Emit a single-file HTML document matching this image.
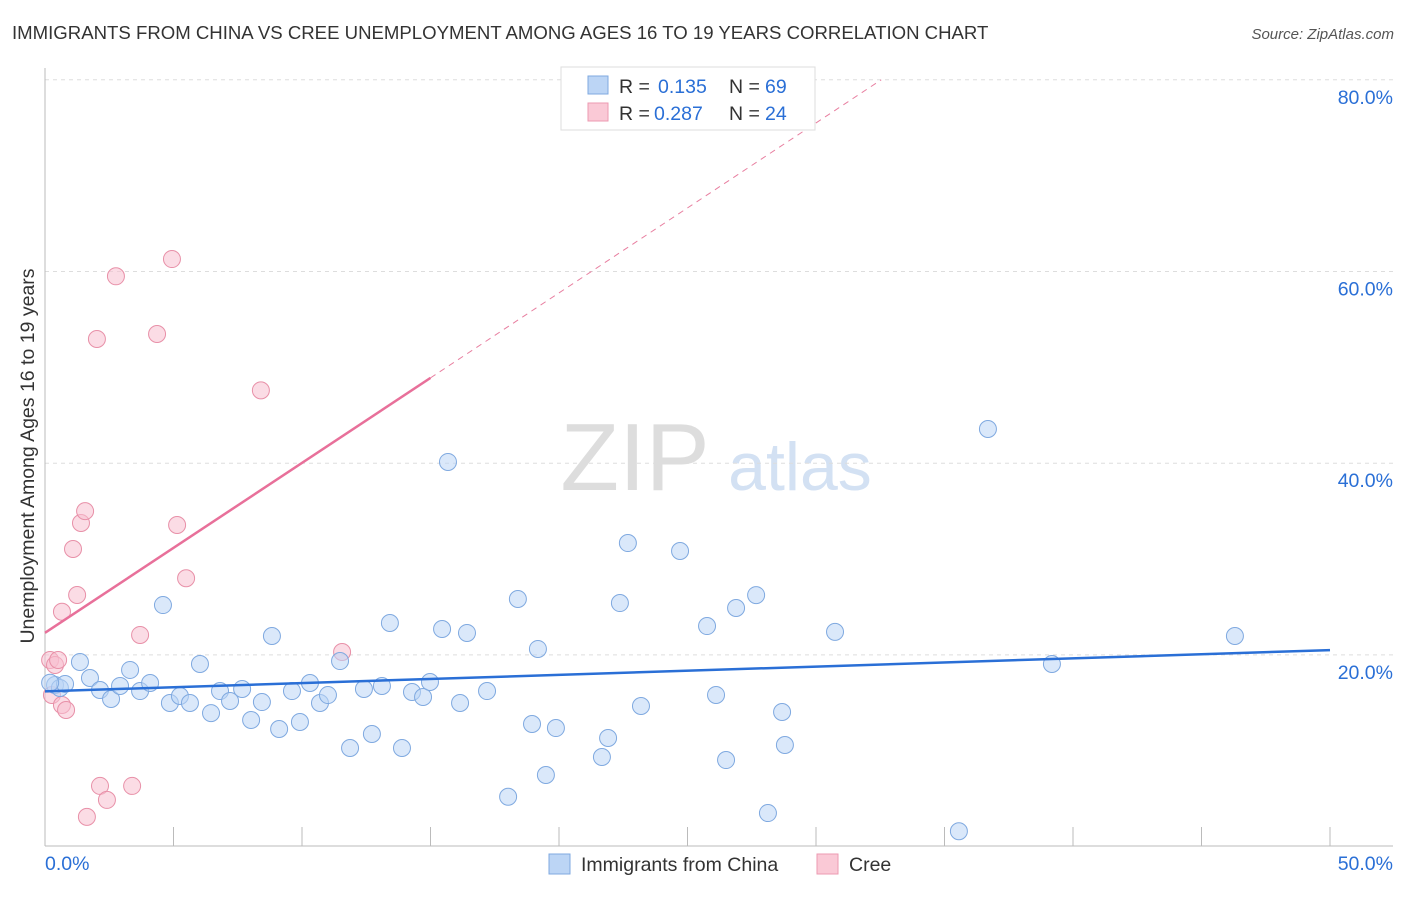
<!DOCTYPE html>
<html><head><meta charset="utf-8"><style>
body{margin:0;background:#fff;font-family:"Liberation Sans",sans-serif;}
svg text{font-family:"Liberation Sans",sans-serif;}
</style></head><body>
<svg width="1406" height="892" id="c">
<text x="12" y="39" font-size="18.6" fill="#333">IMMIGRANTS FROM CHINA VS CREE UNEMPLOYMENT AMONG AGES 16 TO 19 YEARS CORRELATION CHART</text>
<text x="1394" y="39" font-size="15" fill="#555" text-anchor="end" font-style="italic">Source: ZipAtlas.com</text>
<text transform="translate(34,456) rotate(-90)" font-size="19.5" fill="#333" text-anchor="middle">Unemployment Among Ages 16 to 19 years</text>
<g><text x="635" y="490" font-size="96" fill="#ddd" font-family="Liberation Serif" text-anchor="middle">ZIP</text><text x="800" y="490" font-size="68" fill="#d3e1f3" text-anchor="middle">atlas</text></g>
<g id="grid"></g><g id="marks"></g>
<g>
<rect x="561" y="67" width="254" height="63" fill="#fff" stroke="#ddd"/>
<rect x="588" y="76" width="20" height="18" fill="#bcd5f5" stroke="#7fa9e0"/>
<text x="619" y="93" font-size="19.5" fill="#333">R =</text><text x="658" y="93" font-size="19.5" fill="#2a6fd6">0.135</text>
<text x="729" y="93" font-size="19.5" fill="#333">N =</text><text x="765" y="93" font-size="19.5" fill="#2a6fd6">69</text>
<rect x="588" y="103" width="20" height="18" fill="#fac9d6" stroke="#ec9ab1"/>
<text x="619" y="120" font-size="19.5" fill="#333">R =</text><text x="654" y="120" font-size="19.5" fill="#2a6fd6">0.287</text>
<text x="729" y="120" font-size="19.5" fill="#333">N =</text><text x="765" y="120" font-size="19.5" fill="#2a6fd6">24</text>
</g>
<g>
<rect x="549" y="854" width="21" height="20" fill="#bcd5f5" stroke="#7fa9e0"/>
<text x="581" y="871" font-size="19.5" fill="#333">Immigrants from China</text>
<rect x="817" y="854" width="21" height="20" fill="#fac9d6" stroke="#ec9ab1"/>
<text x="849" y="871" font-size="19.5" fill="#333">Cree</text>
</g>
</svg>
<script>
const blueX=[1.36,1.75,2.14,2.57,2.92,3.31,3.70,4.09,4.59,4.86,5.25,5.64,6.03,6.46,6.81,7.20,7.67,8.02,8.44,8.83,9.11,9.61,9.92,10.31,10.70,11.01,11.48,11.87,12.41,12.72,13.11,13.42,13.89,14.28,14.71,14.98,15.45,15.68,16.15,16.42,17.20,18.02,18.40,18.95,19.18,19.49,19.88,21.67,21.91,22.37,22.68,23.19,24.71,25.76,26.11,26.50,26.89,27.67,28.13,28.68,28.79,30.74,35.56,36.69,39.18,46.30,0.39,0.58,0.78,0.2];
const blueY=[19.26,17.59,16.34,15.40,16.76,18.43,16.23,17.07,25.20,14.98,15.71,14.98,19.05,13.93,16.23,15.19,16.44,13.21,15.08,21.97,12.27,16.23,13.00,17.07,14.98,15.81,19.36,10.29,16.44,11.75,16.76,23.33,10.29,16.13,15.61,17.17,22.70,40.13,14.98,22.29,16.23,5.2,25.83,12.79,20.62,7.47,12.37,9.35,11.33,25.41,31.67,14.67,30.84,23.01,15.82,9.03,24.89,26.24,3.5,14.04,10.6,22.4,1.6,43.57,19.05,21.97,16.86,16.55,16.97,17.1];
const pinkX=[0.2,0.27,0.39,0.51,0.66,0.82,0.66,1.09,1.25,1.40,1.56,2.02,2.14,2.41,2.76,3.39,3.70,4.36,4.94,5.14,5.49,8.40,11.56,1.63];
const pinkY=[19.47,15.82,18.95,19.47,14.77,14.25,24.5,31.05,26.25,33.76,35.0,52.96,6.33,4.87,59.5,6.33,22.08,53.48,61.3,33.55,28.0,47.6,20.3,3.1];
const blueTrend=[16.2,20.5];
const pinkTrend=[22.3,48.9];
const yTicks=[20,40,60,80];
const xTickLabels=["0.0%","50.0%"];
const NS="http://www.w3.org/2000/svg";
const sx=v=>45+v*25.7, sy=v=>846.6-v*9.585;
function mk(t,a,p){const e=document.createElementNS(NS,t);for(const k in a)e.setAttribute(k,a[k]);p.appendChild(e);return e;}
const g=document.getElementById('grid'), m=document.getElementById('marks');
yTicks.forEach(t=>{
 const l=mk('line',{x1:45,x2:1393,y1:sy(t),y2:sy(t),stroke:'#ddd','stroke-dasharray':'4,4'},g);
 
 
 const tx=mk('text',{x:1393,y:sy(t)+24,'font-size':19.5,fill:'#2a6fd6','text-anchor':'end'},g);tx.textContent=t.toFixed(1)+'%';
 
 
});
let ax=mk('line',{x1:45,x2:45,y1:68,y2:846,stroke:'#bbb'},g);


ax=mk('line',{x1:45,x2:1393,y1:846,y2:846,stroke:'#bbb'},g);


for(let i=0;i<=10;i++){const t=mk('line',{x1:sx(i*5),x2:sx(i*5),y1:827,y2:846,stroke:'#bbb'},g);
 
 }
[[0,'start',45],[50,'end',1393]].forEach((d,i)=>{const t=mk('text',{x:d[2],y:870,'font-size':19.5,fill:'#2a6fd6','text-anchor':d[1]},g);t.textContent=xTickLabels[i];
 
 });
function dots(X,Y,f,s,name){X.forEach((x,i)=>{const c=mk('circle',{cx:sx(x),cy:sy(Y[i]),r:8.5,fill:f,'fill-opacity':0.55,stroke:s,'stroke-width':1},m);
 
 });}
dots(pinkX,pinkY,'#f8c0d0','#e890a8','cree-point');
dots(blueX,blueY,'#bcd5f5','#7fa9e0','china-point');
let l=mk('line',{x1:sx(0),y1:sy(blueTrend[0]),x2:sx(50),y2:sy(blueTrend[1]),stroke:'#2a6fd6','stroke-width':2.5},m);


const slope=(pinkTrend[1]-pinkTrend[0])/15;
l=mk('line',{x1:sx(15),y1:sy(pinkTrend[1]),x2:sx(15+(80-pinkTrend[1])/slope),y2:sy(80),stroke:'#e87fa0','stroke-width':1,'stroke-dasharray':'6,5'},m);


l=mk('line',{x1:sx(0),y1:sy(pinkTrend[0]),x2:sx(15),y2:sy(pinkTrend[1]),stroke:'#e8709a','stroke-width':2.5},m);


</script>
</body></html>
